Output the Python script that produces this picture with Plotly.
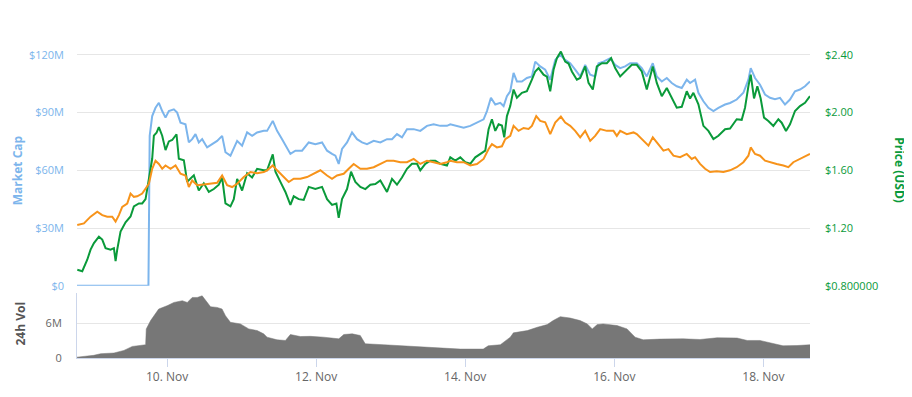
import pandas as pd
import plotly.graph_objects as go

START = pd.Timestamp("2017-11-08 19:00")

# ---- Market Cap (USD millions) ----
mc_hours = [0, 23.0, 23.4, 24.21, 25.28, 26.36, 27.43, 28.50, 29.57, 31.18, 32.25, 33.33, 34.93,
            36.01, 37.08, 38.15, 39.22, 40.30, 41.90, 43.51, 45.12, 46.73, 47.80, 49.41, 50.48,
            51.56, 53.16, 54.77, 56.38, 57.99, 60.13, 61.20, 63.03, 64.42, 66.03, 67.64, 68.71,
            70.32, 72.46, 74.61, 76.75, 78.90, 80.51, 82.11, 83.19, 84.26, 85.33, 86.94, 88.55,
            90.16, 91.77, 93.37, 95.52, 97.66, 99.81, 101.42, 103.02, 104.63, 106.24, 108.39,
            110.53, 112.68, 114.82, 116.96, 119.11, 120.19, 122.33, 124.48, 126.62, 128.77,
            130.91, 131.99, 133.27, 134.67, 136.27, 137.35, 138.42, 139.49, 140.56, 141.64,
            143.24, 144.85, 146.46, 147.53, 149.14, 150.75, 152.36, 153.97, 155.58, 157.18,
            158.79, 160.40, 162.01, 163.62, 165.23, 166.83, 167.91, 169.52, 171.66, 173.27,
            174.88, 176.49, 178.09, 180.23, 181.84, 183.45, 185.38, 186.67, 188.28, 189.89,
            191.49, 193.10, 194.71, 196.32, 197.39, 199.00, 200.07, 201.68, 203.29, 204.90,
            206.51, 208.65, 210.26, 212.40, 214.55, 216.16, 216.91, 218.30, 219.91, 221.52,
            223.13, 224.73, 226.34, 227.95, 229.56, 231.17, 232.78, 234.39, 236.0]
market_cap_m = [0, 0, 77.9, 88.2, 92.5, 95.1, 90.8, 87.4, 90.8, 91.7, 90.0, 84.8, 83.9,
                74.5, 76.2, 78.8, 74.5, 76.2, 71.9, 73.6, 75.3, 77.9, 69.4, 67.6, 71.1,
                75.3, 72.8, 79.7, 77.9, 79.7, 80.5, 80.5, 85.7, 80.5, 76.2, 71.9, 68.5,
                70.2, 70.2, 74.5, 73.6, 74.5, 70.2, 68.5, 67.6, 63.3, 71.1, 74.5, 79.7,
                76.2, 74.5, 73.6, 75.3, 74.5, 76.2, 76.2, 78.8, 77.1, 81.4, 81.4,
                80.5, 83.1, 83.9, 83.1, 83.1, 83.9, 83.1, 82.2, 83.1, 84.8,
                86.5, 90.8, 97.7, 94.2, 95.1, 93.4, 98.5, 101.1, 110.6, 106.2,
                106.2, 108.0, 108.8, 116.5, 114.0, 112.3, 107.1, 117.4, 120.0, 117.4,
                115.7, 112.3, 108.8, 114.8, 109.7, 108.8, 115.7, 116.5, 118.3, 114.8,
                113.1, 114.0, 115.7, 115.7, 113.1, 108.8, 115.7, 108.8, 106.2, 108.0,
                105.4, 103.7, 102.8, 107.1, 105.4, 107.1, 100.3, 95.9, 92.5, 90.8,
                92.5, 94.2, 95.0, 96.8, 100.3, 107.1, 113.1, 108.0, 104.5, 99.4,
                97.7, 97.0, 97.7, 94.2, 96.8, 101.1, 102.0, 103.7, 106.2]

# ---- Price (USD) ----
usd_hours = [0.1, 1.69, 3.30, 4.37, 5.45, 7.05, 8.13, 9.20, 10.81, 11.88, 12.42, 12.95, 14.02,
             15.63, 17.24, 18.31, 19.92, 20.99, 22.07, 23.14, 24.21, 24.75, 25.61, 26.36, 27.43,
             28.50, 29.57, 30.65, 32.04, 32.79, 34.40, 35.47, 36.54, 37.62, 39.22, 40.83, 42.44,
             44.05, 45.66, 46.73, 47.80, 49.41, 50.48, 51.56, 53.16, 54.77, 56.38, 57.99, 60.13,
             61.20, 63.03, 63.89, 65.49, 67.10, 68.71, 69.78, 71.39, 73.00, 74.61, 76.75, 78.90,
             80.51, 82.11, 83.51, 84.26, 85.33, 86.94, 88.23, 89.62, 91.23, 92.84, 94.45, 96.05,
             97.66, 99.81, 101.42, 103.02, 104.63, 106.24, 107.85, 109.46, 110.53, 112.14,
             113.75, 115.36, 116.96, 119.11, 120.19, 121.80, 123.41, 125.02, 126.62, 128.23,
             129.84, 131.45, 132.52, 133.59, 134.67, 135.74, 136.81, 137.56, 138.42, 139.49,
             140.56, 141.64, 143.24, 144.85, 146.46, 147.53, 148.61, 150.21, 151.29, 152.36,
             153.43, 154.50, 155.79, 157.18, 158.26, 159.33, 160.94, 162.01, 163.62, 164.69,
             166.08, 167.37, 168.98, 170.59, 171.98, 173.27, 174.88, 176.49, 178.63, 180.23,
             181.84, 183.45, 185.38, 186.67, 188.28, 189.89, 191.49, 193.10, 194.71, 196.32,
             197.39, 198.46, 200.07, 201.68, 203.29, 204.90, 206.51, 208.65, 210.26, 212.40,
             214.01, 215.08, 216.16, 216.91, 217.98, 219.05, 220.12, 221.20, 222.59, 224.20,
             225.81, 226.88, 228.27, 229.56, 231.17, 232.78, 234.39, 236.0]
price_usd = [0.91, 0.90, 0.98, 1.05, 1.095, 1.14, 1.12, 1.06, 1.05, 1.06, 0.97, 1.05, 1.175,
             1.24, 1.28, 1.35, 1.37, 1.37, 1.40, 1.55, 1.68, 1.84, 1.86, 1.90, 1.84,
             1.74, 1.80, 1.81, 1.85, 1.68, 1.67, 1.52, 1.54, 1.565, 1.46, 1.51, 1.45,
             1.47, 1.50, 1.55, 1.37, 1.35, 1.40, 1.54, 1.46, 1.58, 1.55, 1.61, 1.60,
             1.60, 1.71, 1.59, 1.52, 1.45, 1.36, 1.42, 1.40, 1.395, 1.485, 1.47, 1.485,
             1.40, 1.36, 1.37, 1.27, 1.40, 1.47, 1.59, 1.52, 1.485, 1.47, 1.50, 1.505,
             1.53, 1.45, 1.54, 1.50, 1.55, 1.61, 1.645, 1.645, 1.60, 1.645,
             1.667, 1.667, 1.645, 1.633, 1.69, 1.667, 1.69, 1.656, 1.645, 1.69,
             1.713, 1.736, 1.885, 1.954, 1.873, 1.919, 1.91, 1.828, 1.976, 2.045,
             2.16, 2.103, 2.137, 2.148, 2.228, 2.285, 2.309, 2.263, 2.25, 2.148,
             2.297, 2.377, 2.423, 2.354, 2.34, 2.285, 2.228, 2.24, 2.32, 2.206,
             2.16, 2.32, 2.343, 2.343, 2.377, 2.309, 2.251, 2.285, 2.331, 2.331,
             2.285, 2.16, 2.32, 2.206, 2.114, 2.171, 2.098, 2.034, 2.04, 2.148,
             2.098, 2.137, 2.057, 1.908, 1.873, 1.816, 1.839, 1.885, 1.89, 1.954,
             1.95, 2.034, 2.182, 2.263, 2.098, 2.182, 2.098, 1.965, 1.942, 1.908,
             1.954, 1.93, 1.873, 1.919, 2.011, 2.045, 2.068, 2.114]

# ---- Price (BTC), plotted on a hidden axis in relative units ----
btc_hours = [0.08, 2.23, 4.37, 6.52, 8.13, 9.74, 11.34, 12.42, 13.49, 14.56, 16.17, 17.24, 18.31,
             19.39, 20.99, 22.07, 23.14, 24.21, 25.28, 26.36, 27.43, 28.50, 30.11, 31.72, 33.33,
             34.93, 36.01, 37.08, 38.69, 40.83, 42.97, 45.12, 46.73, 48.34, 49.95, 51.56, 53.70,
             55.84, 57.99, 60.13, 61.20, 63.03, 64.42, 66.03, 68.17, 69.78, 71.93, 74.07, 76.22,
             78.36, 80.51, 82.11, 83.72, 85.87, 87.48, 89.08, 91.23, 93.37, 95.52, 97.66, 99.81,
             101.95, 104.10, 106.24, 108.39, 110.53, 112.68, 114.82, 116.96, 119.11, 120.19,
             122.33, 124.48, 126.62, 128.77, 130.91, 132.52, 133.59, 135.20, 136.81, 137.88,
             139.49, 140.56, 142.17, 143.78, 145.39, 146.46, 147.86, 149.14, 150.75, 152.36,
             153.97, 155.79, 157.18, 158.79, 160.40, 162.01, 163.62, 165.23, 166.83, 168.44,
             170.59, 172.73, 173.81, 174.88, 177.02, 179.17, 180.23, 181.84, 183.99, 185.38,
             187.20, 188.81, 190.42, 192.03, 194.17, 196.32, 197.93, 199.00, 200.61, 202.22,
             203.83, 205.97, 208.11, 210.26, 212.40, 214.55, 216.16, 216.91, 218.30, 219.91,
             221.52, 223.13, 225.27, 227.42, 229.03, 230.63, 232.78, 234.39, 236.0]
price_btc_rel = [31.6, 32.4, 35.9, 38.5, 36.7, 35.9, 35.9, 33.3, 36.7, 41.0, 42.7, 47.9, 46.2,
                 46.5, 47.9, 50.5, 53.0, 60.8, 65.0, 63.3, 60.8, 62.5, 60.8, 62.5, 58.2,
                 57.3, 51.3, 54.7, 52.2, 52.6, 53.0, 53.5, 57.3, 52.2, 51.3, 53.0, 56.5,
                 59.1, 58.5, 59.1, 60.0, 62.5, 60.0, 57.3, 53.9, 55.6, 55.6, 56.5, 58.2,
                 60.0, 57.3, 55.6, 57.3, 58.2, 60.8, 63.3, 60.8, 60.8, 61.6, 63.3, 65.0,
                 65.0, 64.2, 64.2, 65.9, 63.3, 65.0, 64.2, 63.3, 64.2, 65.0,
                 64.2, 64.2, 62.5, 63.3, 65.9, 71.1, 73.6, 71.9, 72.5, 76.2,
                 77.9, 83.1, 80.5, 82.0, 81.5, 83.1, 88.2, 85.7, 85.0, 78.8,
                 84.8, 87.9, 84.8, 83.1, 80.5, 77.1, 80.5, 75.3, 77.9, 81.4,
                 80.5, 80.5, 77.9, 80.5, 78.8, 79.7, 78.8, 76.2, 72.8, 77.1,
                 73.6, 70.2, 71.0, 67.6, 66.8, 68.5, 65.9, 66.8, 63.3, 60.8,
                 59.1, 59.5, 59.1, 60.0, 61.6, 64.2, 67.6, 71.9, 68.5, 67.6,
                 65.0, 64.2, 63.3, 62.5, 61.6, 64.2, 65.9, 66.8, 68.5]

# ---- 24h Volume (USD millions) ----
vol_hours = [0, 5.4, 7.6, 11.9, 15.1, 17.8, 22.1, 22.3, 23.7, 24.7, 26.3, 29.0, 31.2, 33.9,
             35.5, 37.1, 38.7, 40.3, 41.9, 43.0, 45.1, 46.7, 47.8, 49.4, 52.6, 55.3, 58.0,
             60.1, 61.2, 64.4, 67.1, 68.7, 71.9, 75.1, 79.4, 82.6, 84.3, 85.9, 88.6, 91.2,
             92.8, 98.7, 104.1, 109.5, 114.8, 123.4, 130.8, 132.4, 136.3, 139.5, 140.5,
             145.0, 148.2, 151.4, 153.3, 155.6, 158.8, 162.0, 164.3, 165.9, 167.5, 169.4,
             173.9, 177.1, 179.7, 182.3, 187.7, 190.0, 195.1, 200.6, 206.1, 212.5, 215.8,
             219.9, 224.1, 227.3, 231.8, 236.0]
volume_m = [0.15, 0.46, 0.74, 0.86, 1.31, 2.0, 2.29, 5.03, 6.46, 7.31, 8.46, 9.03, 9.6, 9.89,
            9.6, 10.46, 10.46, 10.74, 9.6, 8.86, 8.74, 8.46, 7.31, 6.17, 5.89, 5.03, 4.74,
            4.17, 3.6, 3.14, 3.03, 4.06, 3.71, 3.74, 3.6, 3.49, 3.31, 4.06, 4.17, 3.89,
            2.46, 2.29, 2.11, 2.0, 1.71, 1.54, 1.54, 2.11, 2.29, 3.6, 4.34,
            4.74, 5.31, 5.77, 6.46, 7.14, 6.9, 6.46, 5.89, 5.03, 5.77, 5.89,
            5.6, 5.03, 3.6, 3.14, 3.26, 3.31, 3.31, 3.2, 3.49, 3.45, 3.03,
            3.03, 2.46, 2.11, 2.15, 2.29]

# ---- axis ticks ----
mc_ticks = [0, 30, 60, 90, 120]
mc_ticktext = ["$0", "$30M", "$60M", "$90M", "$120M"]
usd_ticks = [0.8, 1.2, 1.6, 2.0, 2.4]
usd_ticktext = ["$0.800000", "$1.20", "$1.60", "$2.00", "$2.40"]
vol_ticks = [0, 6]
vol_ticktext = ["0", "6M"]
date_ticks = ["2017-11-10", "2017-11-12", "2017-11-14", "2017-11-16", "2017-11-18"]


def to_time(hours):
    return START + pd.to_timedelta(hours, unit="h")


BLUE = "#7cb5ec"
GREEN = "#0a9a3a"
ORANGE = "#f7931a"
GRID = "#e6e6e6"
AXIS = "#ccd6eb"
FONT = "Open Sans"

fig = go.Figure()
fig.add_trace(go.Scatter(x=to_time(mc_hours), y=market_cap_m, mode="lines",
                         line=dict(color=BLUE, width=2), xaxis="x", yaxis="y"))
fig.add_trace(go.Scatter(x=to_time(btc_hours), y=price_btc_rel, mode="lines",
                         line=dict(color=ORANGE, width=2), xaxis="x", yaxis="y3"))
fig.add_trace(go.Scatter(x=to_time(usd_hours), y=price_usd, mode="lines",
                         line=dict(color=GREEN, width=2), xaxis="x", yaxis="y2"))
fig.add_trace(go.Scatter(x=to_time(vol_hours), y=volume_m, mode="lines", fill="tozeroy",
                         line=dict(color="#777777", width=0.5), fillcolor="#777777",
                         xaxis="x2", yaxis="y4"))

x_range = [START, START + pd.Timedelta(hours=236)]
mc_top = 125.15
usd_top = 0.8 + 1.6 * mc_top / 120

# the page body adds an 8px offset, so the figure is sized to fit inside the window
fig.update_layout(
    width=904, height=389,
    margin=dict(l=69, r=102, t=37, b=28),
    paper_bgcolor="white", plot_bgcolor="white",
    showlegend=False, hovermode=False,
    font=dict(family=FONT, size=11, color="#666666"),
    xaxis=dict(domain=[0, 1], anchor="y", range=x_range, showgrid=False,
               showticklabels=False, ticks="", showline=False, zeroline=False),
    yaxis=dict(domain=[0.231, 1], range=[0, mc_top], tickvals=mc_ticks, ticktext=mc_ticktext,
               tickfont=dict(color=BLUE, size=11), gridcolor=GRID, gridwidth=1,
               zeroline=False, showline=False, ticklabelstandoff=12),
    yaxis2=dict(overlaying="y", side="right", range=[0.8, usd_top], tickvals=usd_ticks,
                ticktext=usd_ticktext, tickfont=dict(color=GREEN, size=11), showgrid=False,
                zeroline=False, showline=False, ticklabelstandoff=14),
    yaxis3=dict(overlaying="y", range=[0, mc_top], visible=False),
    xaxis2=dict(domain=[0, 1], anchor="y4", matches="x", range=x_range,
                tickvals=date_ticks, tickformat="%-d. %b", ticks="outside", ticklen=8,
                tickcolor=AXIS, showline=True, linecolor=AXIS, linewidth=1,
                showgrid=False, zeroline=False, tickfont=dict(color="#666666", size=12)),
    yaxis4=dict(domain=[0, 0.209], anchor="x2", range=[0, 11.3], tickvals=vol_ticks,
                ticktext=vol_ticktext, gridcolor=GRID, zeroline=False, showline=True,
                linecolor=AXIS, tickfont=dict(color="#666666", size=11), ticklabelstandoff=12),
    annotations=[
        dict(text="<b>Market Cap</b>", xref="paper", yref="paper", x=0, y=0.6,
             xshift=-60, textangle=-90, showarrow=False, xanchor="center", yanchor="middle",
             font=dict(color=BLUE, size=12, family=FONT)),
        dict(text="<b>Price (USD)</b>", xref="paper", yref="paper", x=1, y=0.6,
             xshift=90, textangle=90, showarrow=False, xanchor="center", yanchor="middle",
             font=dict(color=GREEN, size=12, family=FONT)),
        dict(text="<b>24h Vol</b>", xref="paper", yref="paper", x=0, y=0.11,
             xshift=-56, textangle=-90, showarrow=False, xanchor="center", yanchor="middle",
             font=dict(color="#555555", size=12, family=FONT)),
    ],
)

fig.write_html("out.html")
